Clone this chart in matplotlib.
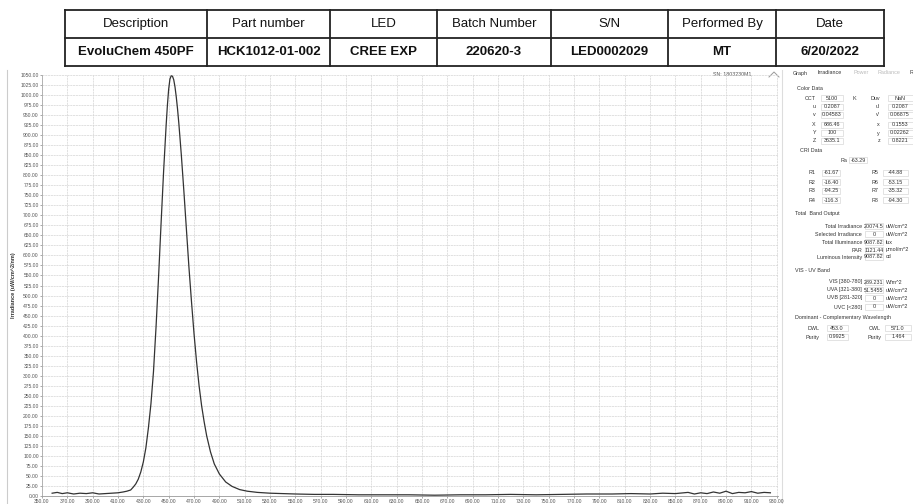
import matplotlib.pyplot as plt
from matplotlib.patches import Rectangle

plt.rcParams['font.family'] = ['Liberation Sans', 'DejaVu Sans']

W, H = 913, 504

# header table
head_cols = ['Description', 'Part number', 'LED', 'Batch Number', 'S/N', 'Performed By', 'Date']
head_vals = ['EvoluChem 450PF', 'HCK1012-01-002', 'CREE EXP', '220620-3', 'LED0002029', 'MT', '6/20/2022']

# spectrum (wavelength nm, irradiance uW/cm^2/nm)
wl = [358, 362, 366, 370, 375, 380, 385, 390, 395, 400, 405, 410, 414, 417, 420, 422, 424, 426,
      428, 430, 432, 434, 436, 438, 440, 442, 444, 446, 448, 449, 450, 451, 452, 453, 454, 455,
      456, 457, 458, 460, 462, 464, 466, 468, 470, 472, 474, 476, 478, 480, 483, 486, 490, 495,
      500, 506, 512, 520, 530, 540, 550, 565, 580, 600, 620, 640, 660, 680, 700, 720, 740, 760,
      780, 800, 815, 830, 840, 850, 860, 865, 870, 875, 880, 885, 890, 895, 900, 905, 910, 915,
      920, 925]
irr = [7, 9, 6, 8, 5, 7, 6, 8, 5, 6, 7, 8, 10, 12, 15, 22, 30, 42,
       60, 85, 120, 170, 230, 310, 420, 545, 680, 810, 925, 975, 1015, 1040, 1048, 1047, 1038, 1020,
       995, 965, 930, 850, 760, 665, 570, 485, 405, 335, 275, 225, 185, 150, 110, 80, 55, 35,
       24, 16, 12, 9, 7, 6, 5, 4, 4, 3, 3, 3, 2, 3, 3, 4, 3, 4,
       5, 5, 6, 5, 7, 6, 9, 5, 8, 6, 10, 7, 12, 6, 9, 8, 11, 7,
       9, 8]

x_ticks = list(range(350, 931, 20))
y_ticks = list(range(0, 1051, 25))

# side panel values
color_rows = [('CCT', '5100', 'K', 'Duv', 'NaN'),
              ('u', '0.2087', '', "u'", '0.2087'),
              ('v', '0.04583', '', "v'", '0.06875'),
              ('X', '686.46', '', 'x', '0.1553'),
              ('Y', '100', '', 'y', '0.02262'),
              ('Z', '3635.1', '', 'z', '0.8221')]
cri_ra = '-63.29'
cri_rows = [('R1', '-61.67', 'R5', '-44.88'),
            ('R2', '-16.40', 'R6', '-53.15'),
            ('R3', '-94.25', 'R7', '-35.32'),
            ('R4', '-116.3', 'R8', '-94.30')]
band_rows = [('Total Irradiance', '20074.5', 'uW/cm^2'),
             ('Selected Irradiance', '0', 'uW/cm^2'),
             ('Total Illuminance', '9087.82', 'lux'),
             ('PAR', '1121.44', 'µmol/m^2'),
             ('Luminous Intensity', '9087.82', 'cd')]
uv_rows = [('VIS [380-780]', '289.231', 'W/m^2'),
           ('UVA [321-380]', '51.5455', 'uW/cm^2'),
           ('UVB [281-320]', '0', 'uW/cm^2'),
           ('UVC [<280]', '0', 'uW/cm^2')]
wave_rows = [('DWL', '453.0', 'CWL', '571.0'),
             ('Purity', '0.9925', 'Purity', '1.464')]

fig = plt.figure(figsize=(W / 100, H / 100), dpi=100)

# overlay in pixel coords
ov = fig.add_axes([0, 0, 1, 1])
ov.set_xlim(0, W)
ov.set_ylim(H, 0)
ov.axis('off')

# --- header table
col_edges = [65, 207, 330, 437, 551, 668, 776, 884]
row_y = [10, 38, 66]
for y in row_y:
    ov.plot([col_edges[0], col_edges[-1]], [y, y], color='#222222', lw=1.3)
for x in col_edges:
    ov.plot([x, x], [row_y[0], row_y[-1]], color='#222222', lw=1.3)
for i in range(len(head_cols)):
    cx = (col_edges[i] + col_edges[i + 1]) / 2
    ov.text(cx, 24, head_cols[i], ha='center', va='center', fontsize=9.5, color='#111111')
    ov.text(cx, 52, head_vals[i], ha='center', va='center', fontsize=9.5, color='#111111',
            fontweight='bold')

# faint frame of the screenshot
ov.plot([7, 7], [70, H], color='#cccccc', lw=0.8)
ov.plot([782, 782], [70, H], color='#dddddd', lw=0.8)

# --- spectrum plot
L, R, T, B = 42, 778, 75, 496
ax = fig.add_axes([L / W, 1 - B / H, (R - L) / W, (B - T) / H])
ax.plot(wl, irr, color='#333333', lw=0.9)
ax.set_xlim(350, 931)
ax.set_ylim(0, 1050)
ax.set_xticks(x_ticks)
ax.set_yticks(y_ticks)
ax.set_xticklabels(['%.2f' % v for v in x_ticks])
ax.set_yticklabels(['%.2f' % v for v in y_ticks])
ax.tick_params(axis='both', labelsize=3.6, colors='#888888', labelcolor='#555555',
               length=1.5, width=0.5, pad=0.8)
ax.grid(True, color='#d4d4d4', lw=0.5, ls=(0, (3, 1)))
for s in ['top', 'right']:
    ax.spines[s].set_visible(False)
ax.spines['left'].set_color('#aaaaaa')
ax.spines['bottom'].set_color('#999999')
ax.spines['left'].set_linewidth(0.6)
ax.spines['bottom'].set_linewidth(0.6)
ax.set_ylabel('Irradiance (uW/cm^2/nm)', fontsize=4, fontweight='bold', color='#333333', labelpad=3)
ax.patch.set_alpha(0)

ov.text(751, 74, 'SN: 1803230M1', ha='right', va='center', fontsize=3.8, color='#555555')
ov.plot([769, 774, 779], [77, 72, 77], color='#999999', lw=0.7)

# --- side panel
fs = 3.9
tc = '#333333'
ov.text(793, 73, 'Graph', fontsize=fs, color=tc, va='center')
ov.text(817, 73, 'Irradiance', fontsize=fs, color=tc, va='center')
ov.text(853, 73, 'Power', fontsize=fs, color='#bbbbbb', va='center')
ov.text(877, 73, 'Radiance', fontsize=fs, color='#bbbbbb', va='center')
ov.text(909, 73, 'R', fontsize=fs, color=tc, va='center')


def box(cx, cy, w, txt):
    ov.add_patch(Rectangle((cx - w / 2, cy - 3.2), w, 6.4, fill=False, ec='#d8d8d8', lw=0.5))
    ov.text(cx, cy, txt, ha='center', va='center', fontsize=fs, color=tc)


ov.text(797, 88, 'Color Data', fontsize=fs, color=tc, va='center')
cy_list = [98, 107, 115, 125, 133, 141]
for (a, b, u, c, d), cy in zip(color_rows, cy_list):
    ov.text(816, cy, a, ha='right', va='center', fontsize=fs, color=tc)
    box(832, cy, 22, b)
    if u:
        ov.text(854, cy, u, ha='center', va='center', fontsize=fs, color=tc)
    ov.text(880, cy, c, ha='right', va='center', fontsize=fs, color=tc)
    box(900, cy, 25, d)

ov.text(800, 150, 'CRI Data', fontsize=fs, color=tc, va='center')
ov.text(847, 160, 'Ra', ha='right', va='center', fontsize=fs, color=tc)
box(858, 160, 18, cri_ra)
for (a, b, c, d), cy in zip(cri_rows, [173, 182, 191, 200]):
    ov.text(815, cy, a, ha='right', va='center', fontsize=fs, color=tc)
    box(831, cy, 18, b)
    ov.text(878, cy, c, ha='right', va='center', fontsize=fs, color=tc)
    box(895, cy, 25, d)

ov.text(795, 214, 'Total  Band Output', fontsize=fs, color=tc, va='center')
for (a, b, u), cy in zip(band_rows, [226, 234, 242, 250, 257]):
    ov.text(862, cy, a, ha='right', va='center', fontsize=fs, color=tc)
    box(874, cy, 18, b)
    ov.text(886, cy, u, ha='left', va='center', fontsize=fs, color=tc)

ov.text(795, 270, 'VIS - UV Band', fontsize=fs, color=tc, va='center')
for (a, b, u), cy in zip(uv_rows, [282, 290, 298, 307]):
    ov.text(862, cy, a, ha='right', va='center', fontsize=fs, color=tc)
    box(874, cy, 18, b)
    ov.text(886, cy, u, ha='left', va='center', fontsize=fs, color=tc)

ov.text(795, 318, 'Dominant - Complementary Wavelength', fontsize=fs, color=tc, va='center')
for (a, b, c, d), cy in zip(wave_rows, [328, 337]):
    ov.text(820, cy, a, ha='right', va='center', fontsize=fs, color=tc)
    box(837, cy, 21, b)
    ov.text(881, cy, c, ha='right', va='center', fontsize=fs, color=tc)
    box(898, cy, 26, d)

fig.savefig('out.png', dpi=100)
